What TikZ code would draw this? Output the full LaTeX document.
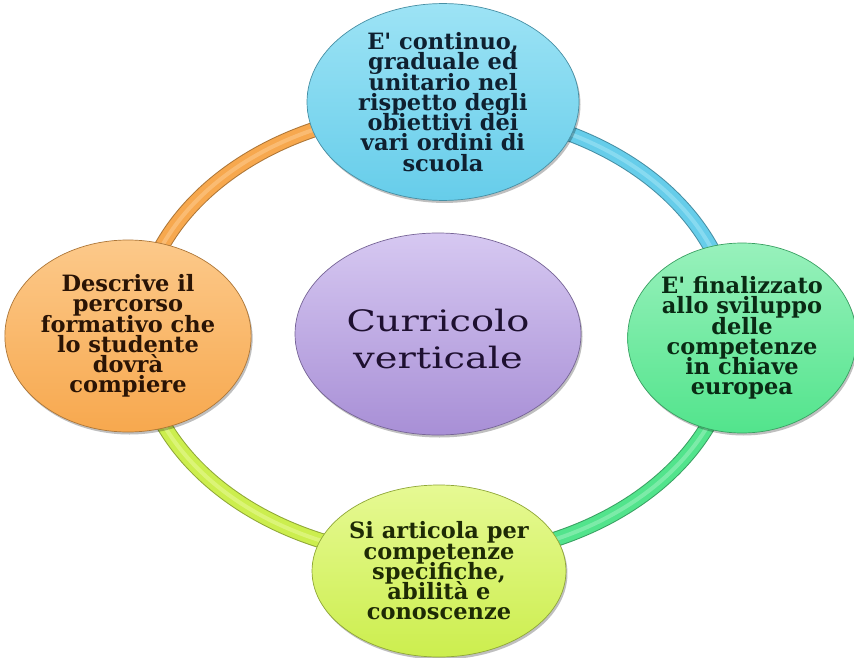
\documentclass[tikz,border=0pt]{standalone}
\usepackage{fontspec}
\setmainfont{DejaVu Serif}[Ligatures=TeXOff]
\usetikzlibrary{shapes.geometric,shadows}
\definecolor{cyanB}{HTML}{66CDEA}\definecolor{cyanL}{HTML}{9DE3F5}
\definecolor{greenB}{HTML}{52E48C}\definecolor{greenL}{HTML}{98F1BC}
\definecolor{limeB}{HTML}{CCEE4E}\definecolor{limeL}{HTML}{E6F993}
\definecolor{orangeB}{HTML}{F7A84E}\definecolor{orangeL}{HTML}{FCC98A}
\definecolor{purpleB}{HTML}{A88FD6}\definecolor{purpleL}{HTML}{D6C8F1}
\definecolor{cyanT}{HTML}{0F2030}\definecolor{greenT}{HTML}{0A2A14}
\definecolor{limeT}{HTML}{1E2A05}\definecolor{orangeT}{HTML}{2A1405}
\definecolor{purpleT}{HTML}{1E1030}
\newcommand{\bodyf}{\fontsize{22.5}{20.3}\selectfont\bfseries\lineskiplimit=-30pt\relax}
\newcommand{\centf}{\fontsize{29.5}{36.5}\selectfont\lineskiplimit=-30pt\relax}
\begin{document}
\begin{tikzpicture}[x=1pt,y=-1pt,
  blob/.style={ellipse, inner sep=0pt, align=center, draw=#1B!70!black, line width=0.7pt,
    top color=#1L, bottom color=#1B, text=#1T,
    drop shadow={shadow xshift=1.5pt, shadow yshift=-2.5pt, opacity=0.25, fill=black}},
  ringseg/.style={draw=#1B!70!black, line width=1pt, double=#1B, double distance=13.5pt},
  ringhi/.style={draw=#1L, line width=4pt, opacity=0.6}]
\fill[white] (0,0) rectangle (854,658);
\useasboundingbox (0,0) rectangle (854,658);
\coordinate (ringC) at (436,334);
% ring segments
\foreach \a/\b/\c in {190/250/orange, 290/345/cyan, 15/70/green, 110/170/lime}{
  \draw[ringseg=\c] (ringC) ++(\a:298 and 224) arc[start angle=\a, end angle=\b, x radius=298, y radius=224];
  \draw[ringhi=\c] (ringC) ++(\a:298 and 224) arc[start angle=\a, end angle=\b, x radius=298, y radius=224];
}
% nodes
\node[blob=cyan, minimum width=272pt, minimum height=186pt, font=\bodyf] (topE) at (443,102)
  {E' continuo,\\graduale ed\\unitario nel\\rispetto degli\\obiettivi dei\\vari ordini di\\scuola};
\node[blob=green, minimum width=224pt, minimum height=190pt, font=\bodyf] (rightE) at (742,338)
  {E' finalizzato\\allo sviluppo\\delle\\competenze\\in chiave\\europea};
\node[blob=lime, minimum width=248pt, minimum height=172pt, font=\bodyf] (bottomE) at (439,571)
  {Si articola per\\competenze\\specifiche,\\abilità e\\conoscenze};
\node[blob=orange, minimum width=236pt, minimum height=192pt, font=\bodyf] (leftE) at (128,336)
  {Descrive il\\percorso\\formativo che\\lo studente\\dovrà\\compiere};
\node[blob=purple, minimum width=286pt, minimum height=202pt] (centerE) at (438,334) {};
\node[font=\centf, xscale=1.3, align=center, text=purpleT] (centerT) at (438,339) {Curricolo\\verticale};
\end{tikzpicture}
\end{document}
